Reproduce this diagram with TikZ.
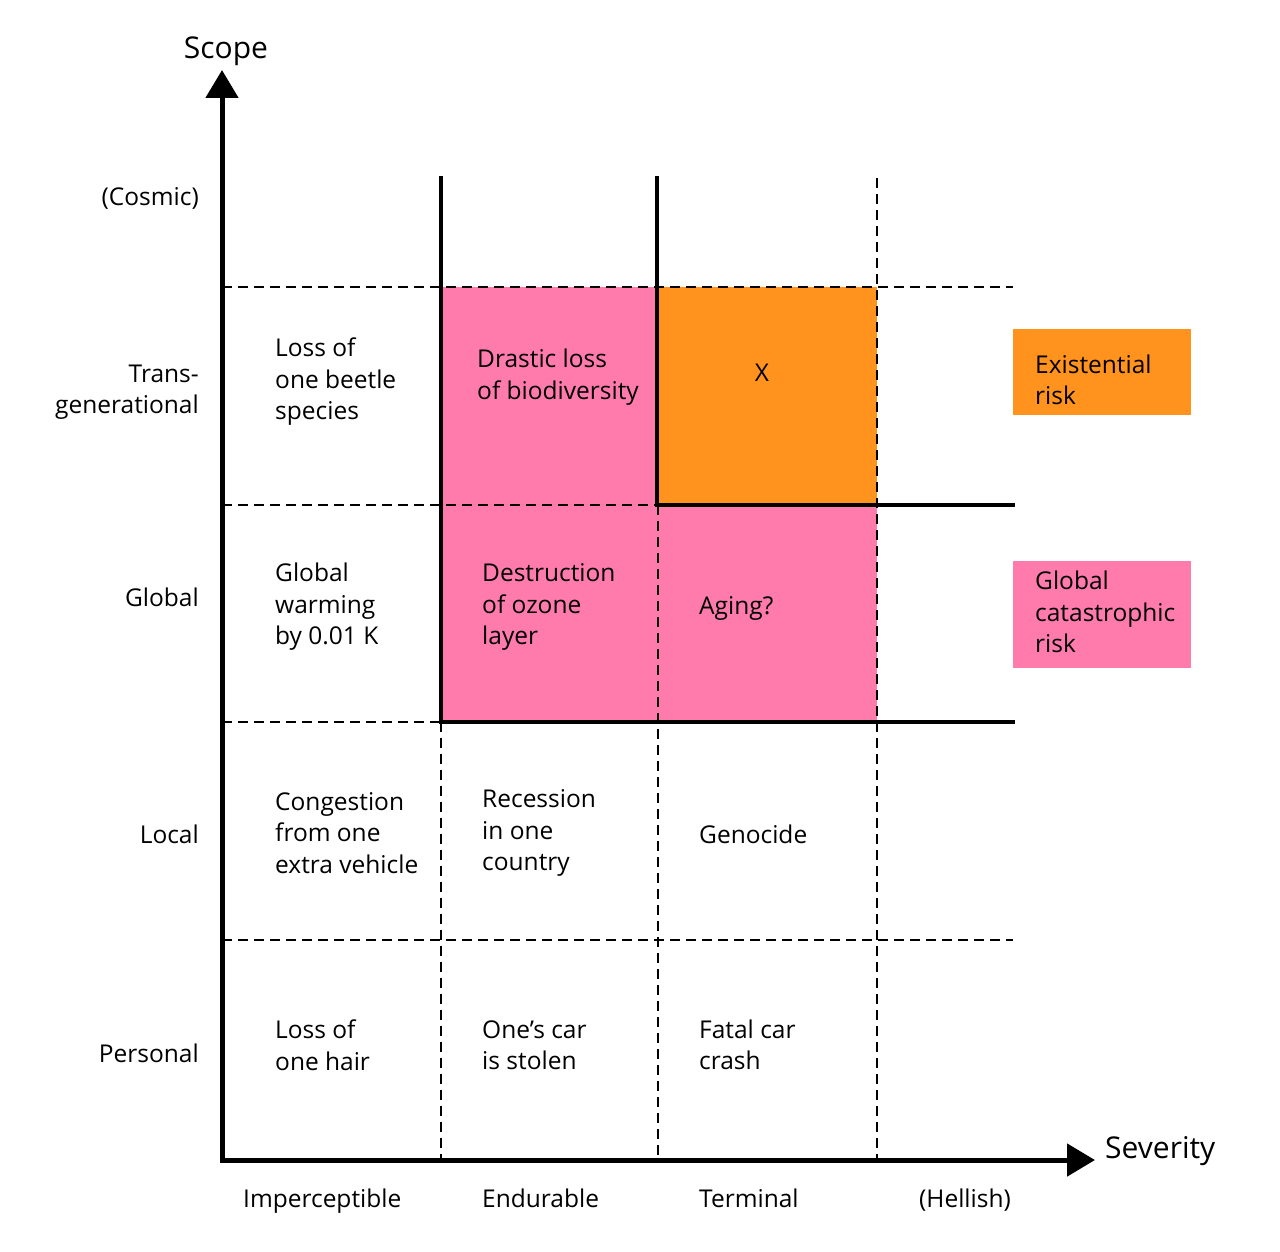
\documentclass[tikz,border=0pt]{standalone}
\usepackage{fontspec}
\setmainfont{Open Sans}
\usetikzlibrary{arrows.meta}
\definecolor{gcrpink}{HTML}{FF7BAC}
\definecolor{xorange}{HTML}{FF931E}
\begin{document}
\begin{tikzpicture}[x=1pt,y=-1pt,
  lbl/.style={font=\fontsize{24.5}{31.5}\selectfont, inner sep=0pt, align=left, anchor=west},
  slbl/.style={font=\fontsize{24.5}{31.5}\selectfont, inner sep=0pt, anchor=base west},
  rlbl/.style={font=\fontsize{24.5}{31.5}\selectfont, inner sep=0pt, align=right, anchor=east},
  srlbl/.style={font=\fontsize{24.5}{31.5}\selectfont, inner sep=0pt, anchor=base east},
  axislbl/.style={font=\fontsize{30}{34}\selectfont, inner sep=0pt},
  grid/.style={dash pattern=on 10pt off 6pt, line width=1.6pt},
  bound/.style={line width=3.5pt},
  axis/.style={line width=5pt, -{Triangle[length=28pt,width=32pt]}}]
\useasboundingbox (0,0) rectangle (1280,1252);
% fills
\fill[gcrpink] (441,287) rectangle (877,722);
\fill[xorange] (657,287) rectangle (877,505);
% coordinates
\coordinate (ytip) at (222,70);
\coordinate (xtip) at (1095,1160);
% dashed grid
\draw[grid] (222,287) -- (1013,287);
\draw[grid] (222,505) -- (657,505);
\draw[grid] (222,722) -- (441,722);
\draw[grid] (222,940) -- (1013,940);
\draw[grid] (441,722) -- (441,1160);
\draw[grid] (658,505) -- (658,1160);
\draw[grid] (877,178) -- (877,1160);
% solid boundaries
\draw[bound, line cap=rect] (441,178) -- (441,722) -- (1013,722);
\draw[bound, line cap=rect] (657,178) -- (657,505) -- (1013,505);
% axes
\draw[axis] (222,1162) -- (ytip);
\draw[axis] (220,1160) -- (xtip);
\node[axislbl] (scope) at (226,51) {Scope};
\node[axislbl, anchor=west] (sev) at (1105,1151) {Severity};
% scope labels
\node[srlbl] (cosmic) at (199,206) {(Cosmic)};
\node[rlbl] (trans) at (199,392) {Trans-\\generational};
\node[srlbl] (glob) at (199,606) {Global};
\node[srlbl] (loc) at (199,843) {Local};
\node[rlbl] (pers) at (199,1053) {Personal};
% severity labels
\node[slbl] (imp) at (243,1207) {Imperceptible};
\node[slbl] (end) at (482,1207) {Endurable};
\node[slbl] (term) at (699,1207) {Terminal};
\node[slbl] (hell) at (919,1207) {(Hellish)};
% cells
\node[lbl] (c11) at (275,382) {Loss of\\one beetle\\species};
\node[lbl] (c12) at (477,377) {Drastic loss\\of biodiversity};
\node[slbl, anchor=base] (c13) at (762,381) {X};
\node[lbl] (c21) at (275,607) {Global\\warming\\by 0.01 K};
\node[lbl] (c22) at (482,607) {Destruction\\of ozone\\layer};
\node[slbl] (c23) at (699,614) {Aging?};
\node[lbl] (c31) at (275,833) {Congestion\\from one\\extra vehicle};
\node[lbl] (c32) at (482,833) {Recession\\in one\\country};
\node[slbl] (c33) at (699,843) {Genocide};
\node[lbl] (c41) at (275,1045) {Loss of\\one hair};
\node[lbl] (c42) at (482,1045) {One’s car\\is stolen};
\node[lbl] (c43) at (699,1045) {Fatal car\\crash};
% legend
\fill[xorange] (1013,329) rectangle (1191,415);
\fill[gcrpink] (1013,561) rectangle (1191,668);
\node[lbl] (leg1) at (1035,380) {Existential\\risk};
\node[lbl] (leg2) at (1035,612) {Global\\catastrophic\\risk};
\end{tikzpicture}
\end{document}
